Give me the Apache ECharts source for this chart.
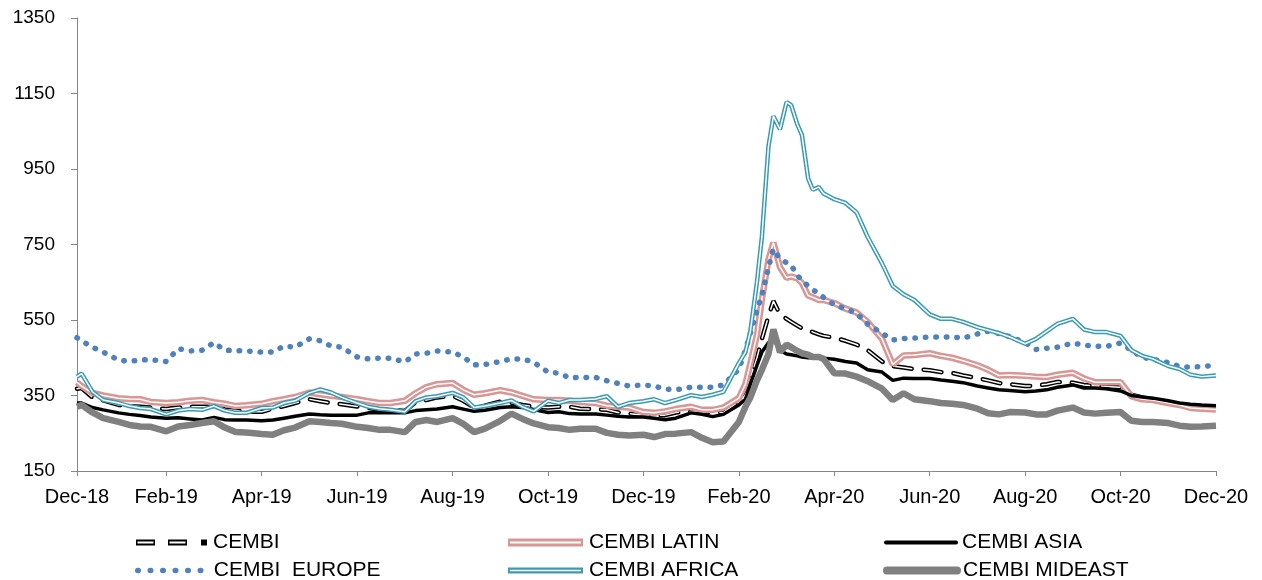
<!DOCTYPE html>
<html>
<head>
<meta charset="utf-8">
<script src="https://cdn.jsdelivr.net/npm/echarts@6/dist/echarts.min.js"></script>
<style>
  html, body { margin: 0; padding: 0; background: #fff; }
  #chart { width: 1262px; height: 580px; }
</style>
</head>
<body>
<div id="chart"></div>
<script>
// sample dates (denser around the Feb/Mar 2020 spike)
var dates = [
  '2018-12-05', '2018-12-08', '2018-12-15', '2018-12-22',
  '2019-01-01', '2019-01-08', '2019-01-15', '2019-01-22',
  '2019-02-01', '2019-02-08', '2019-02-15', '2019-02-22',
  '2019-03-01', '2019-03-08', '2019-03-15', '2019-03-22',
  '2019-04-01', '2019-04-08', '2019-04-15', '2019-04-22',
  '2019-05-01', '2019-05-08', '2019-05-15', '2019-05-22',
  '2019-06-01', '2019-06-08', '2019-06-15', '2019-06-22',
  '2019-07-01', '2019-07-08', '2019-07-15', '2019-07-22',
  '2019-08-01', '2019-08-08', '2019-08-15', '2019-08-22',
  '2019-09-01', '2019-09-08', '2019-09-15', '2019-09-22',
  '2019-10-01', '2019-10-08', '2019-10-15', '2019-10-22',
  '2019-11-01', '2019-11-08', '2019-11-15', '2019-11-22',
  '2019-12-01', '2019-12-08', '2019-12-15', '2019-12-22',
  '2020-01-01', '2020-01-08', '2020-01-15', '2020-01-22',
  '2020-02-01', '2020-02-05', '2020-02-08', '2020-02-12', '2020-02-15', '2020-02-19', '2020-02-22', '2020-02-26',
  '2020-03-01', '2020-03-04', '2020-03-08', '2020-03-11', '2020-03-15', '2020-03-18', '2020-03-22', '2020-03-25',
  '2020-04-01', '2020-04-08', '2020-04-15', '2020-04-22',
  '2020-05-01', '2020-05-08', '2020-05-15', '2020-05-22',
  '2020-06-01', '2020-06-08', '2020-06-15', '2020-06-22',
  '2020-07-01', '2020-07-08', '2020-07-15', '2020-07-22',
  '2020-08-01', '2020-08-08', '2020-08-15', '2020-08-22',
  '2020-09-01', '2020-09-08', '2020-09-15', '2020-09-22',
  '2020-10-01', '2020-10-08', '2020-10-15', '2020-10-22',
  '2020-11-01', '2020-11-08', '2020-11-15', '2020-11-22',
  '2020-12-01'
];

var cembi = [
  368, 370, 345, 337,
  325, 322, 320, 318,
  314, 318, 320, 320,
  320, 313, 310, 307,
  307, 315, 322, 330,
  340, 335, 330, 327,
  321, 317, 312, 312,
  309, 332, 338, 345,
  349, 336, 318, 323,
  334, 331, 325, 320,
  318, 320, 320, 315,
  314, 312, 305, 302,
  298, 298, 298, 305,
  308, 306, 305, 305,
  335, 370, 395, 450, 500, 560, 600, 565,
  553, 545, 535, 528, 522, 518, 512, 508,
  503, 495, 485, 470,
  440, 428, 424, 420,
  417, 412, 410, 403,
  396, 390, 383, 380,
  375, 376, 380, 386,
  384, 378, 375, 374,
  372, 352, 345, 338,
  330, 325, 318, 315,
  313
];

var cembiLatin = [
  385, 375, 357, 350,
  343, 341, 340, 333,
  330, 332, 336, 338,
  332, 328, 322, 324,
  328, 335, 340, 346,
  358, 353, 349, 346,
  340, 335, 330, 330,
  336, 356, 372, 380,
  383, 365, 352, 356,
  364, 358, 349, 340,
  338, 338, 336, 333,
  330, 323, 320, 318,
  306, 304, 308, 314,
  320, 312, 312, 318,
  343, 380, 435, 510, 605, 710, 755, 690,
  662, 665, 660, 648, 615, 610, 603, 603,
  595, 580, 570, 545,
  500, 432, 456, 457,
  462, 455, 450, 442,
  430, 418, 403, 404,
  402, 400, 399, 405,
  410, 395, 385, 385,
  385, 348, 340, 338,
  330, 325, 317, 315,
  313
];

var cembiAsia = [
  330, 330, 318, 312,
  304, 300, 297, 293,
  290, 291, 288, 285,
  292, 286, 285, 285,
  283, 285, 290, 295,
  301, 299, 298, 298,
  298, 304, 304, 304,
  304, 310, 312, 314,
  320, 314, 308, 311,
  318, 320, 318, 313,
  305, 307, 302, 301,
  301, 298, 295, 293,
  293, 290, 286, 290,
  304, 300, 294, 300,
  325, 340, 380, 430, 465, 490, 500, 470,
  460, 458, 455, 452, 450, 450, 450, 449,
  446, 440, 436, 418,
  412, 390, 396, 395,
  395, 391, 388, 384,
  375, 370, 365, 363,
  360, 362, 365, 372,
  378, 370, 370, 368,
  362, 350, 346, 343,
  336, 330, 327, 325,
  323
];

var cembiEurope = [
  503, 495, 478, 465,
  444, 440, 444, 445,
  440, 474, 468, 470,
  490, 470, 469, 468,
  465, 465, 481, 478,
  500, 495, 481, 478,
  452, 447, 449, 449,
  439, 460, 462, 468,
  465, 452, 431, 432,
  440, 447, 447, 438,
  412, 409, 397, 398,
  398, 389, 382, 375,
  378, 375, 367, 365,
  372, 372, 372, 378,
  420, 470, 515, 575, 615, 690, 738, 712,
  702, 695, 668, 655, 640, 630, 620, 610,
  590, 580, 568, 539,
  515, 497, 501, 502,
  505, 505, 505, 502,
  513, 520, 514, 506,
  490, 472, 475, 478,
  489, 483, 481, 480,
  489, 470, 451, 446,
  437, 427, 425, 427,
  430
];

var cembiAfrica = [
  400, 408, 360, 338,
  330, 322, 317, 314,
  300, 310, 314, 312,
  322, 310, 304, 304,
  317, 318, 330, 336,
  357, 366, 358, 345,
  330, 320, 315, 312,
  307, 335, 345, 348,
  357, 345, 318, 322,
  330, 337, 320, 308,
  336, 330, 338, 338,
  341, 348, 320, 330,
  335, 340, 330, 338,
  351, 346, 352, 360,
  436, 465, 520, 650, 770, 1010, 1090, 1055,
  1127, 1119, 1068, 1040, 925, 895, 902, 885,
  870, 860, 835, 770,
  700, 640, 618, 603,
  565, 553, 553, 545,
  531, 523, 515, 505,
  487, 500, 520, 540,
  553, 525, 518, 518,
  508, 470, 455, 447,
  428, 420, 405, 400,
  403
];

var cembiMideast = [
  320, 325, 305, 290,
  280, 272, 268, 267,
  255, 268, 272, 277,
  282, 265, 253, 252,
  248, 246, 258, 265,
  282, 280, 277, 275,
  267, 264, 259, 259,
  253, 280, 285, 280,
  290, 275, 253, 262,
  283, 302, 288, 276,
  266, 264, 259, 262,
  262, 251, 246, 244,
  246, 240, 248, 249,
  253, 238, 226, 228,
  280, 320, 345, 390, 418, 460, 525, 465,
  485, 478, 468, 462, 458, 452, 452, 447,
  409, 408, 400, 388,
  368, 338, 356, 340,
  335, 330, 328, 325,
  315, 303, 300, 306,
  305, 300, 300, 310,
  318, 305, 302, 304,
  306, 283, 280, 280,
  277, 270, 267, 268,
  270
];

var tickLabels = ['Dec-18', 'Feb-19', 'Apr-19', 'Jun-19', 'Aug-19', 'Oct-19', 'Dec-19',
  'Feb-20', 'Apr-20', 'Jun-20', 'Aug-20', 'Oct-20', 'Dec-20'];

// x position in months counted from 1 Dec 2018
function monthPos(d) {
  var p = d.split('-');
  var y = +p[0], m = +p[1], day = +p[2];
  var dim = new Date(y, m, 0).getDate();
  return (y - 2018) * 12 + (m - 12) + (day - 1) / dim;
}

function pts(vals) {
  return dates.map(function (d, i) { return [monthPos(d), vals[i]]; });
}

var FONT = '"Liberation Sans", Arial, sans-serif';
var dash = [18, 12];

function line(name, vals, style) {
  return {
    name: name,
    type: 'line',
    data: pts(vals),
    symbol: 'none',
    silent: true,
    lineStyle: style
  };
}

// white core lines drawn right after their outer line give the "double line" look
var series = [
  line('CEMBI', cembi, { color: '#000', width: 4.5, type: dash, cap: 'round' }),
  line('CEMBI_w', cembi, { color: '#fff', width: 1.5, type: dash, cap: 'round' }),
  line('CEMBI LATIN', cembiLatin, { color: '#D99694', width: 6.5 }),
  line('CEMBI LATIN_w', cembiLatin, { color: '#fff', width: 1.5 }),
  line('CEMBI ASIA', cembiAsia, { color: '#000', width: 3.5 }),
  line('CEMBI  EUROPE', cembiEurope, { color: '#4F81BD', width: 5.5, type: [0.5, 10], cap: 'round' }),
  line('CEMBI AFRICA', cembiAfrica, { color: '#3A9BB5', width: 4.5 }),
  line('CEMBI AFRICA_w', cembiAfrica, { color: '#fff', width: 1.5 }),
  line('CEMBI MIDEAST', cembiMideast, { color: '#808080', width: 6.5 })
];

var textStyle = { fontFamily: FONT, fontSize: 21, color: '#000', padding: [0, 0, 0, 1] };

// legend entry drawn with the series' own line style
function lineLegend(name, left, top, lineStyle) {
  return {
    data: [name], left: left, top: top,
    itemWidth: 70, itemHeight: 14, padding: 0, selectedMode: false,
    itemStyle: { color: 'rgba(0,0,0,0)', borderWidth: 0, opacity: 0 },
    lineStyle: lineStyle,
    textStyle: textStyle
  };
}

// legend entry with an outlined (double line) icon
function pathLegend(name, left, top, w, h, path, color) {
  return {
    data: [{ name: name, icon: 'path://' + path }],
    left: left, top: top,
    itemWidth: w, itemHeight: h, padding: 0, selectedMode: false,
    symbolKeepAspect: false,
    itemStyle: { color: color, borderWidth: 0 },
    textStyle: textStyle
  };
}

var row1 = 532, row2 = 560;
var legends = [
  pathLegend('CEMBI', 136, row1, 71, 6,
    'M0,0H19V6H0Z M1.5,2V4H17.5V2Z M32,0H51V6H32Z M33.5,2V4H49.5V2Z M65,0H71V6H65Z', '#000'),
  pathLegend('CEMBI LATIN', 508, row1, 75, 8,
    'M0,0H75V8H0Z M2,3V5H73V3Z', '#D99694'),
  lineLegend('CEMBI ASIA', 884, row1, { width: 4, cap: 'round' }),
  lineLegend('CEMBI  EUROPE', 135, row2, { width: 5.5, type: [0.5, 12], cap: 'round' }),
  pathLegend('CEMBI AFRICA', 508, row2, 75, 6,
    'M0,0H75V6H0Z M2,2.2V3.8H73V2.2Z', '#3A9BB5'),
  lineLegend('CEMBI MIDEAST', 883, row2, { width: 8, cap: 'round' })
];

var xMin = monthPos(dates[0]);
var chart = echarts.init(document.getElementById('chart'));
chart.setOption({
  animation: false,
  backgroundColor: '#fff',
  grid: { left: 77, right: 46, top: 18, bottom: 109 },
  xAxis: {
    type: 'value',
    min: xMin,
    max: 24,
    minInterval: 2,
    maxInterval: 2,
    splitNumber: 12,
    splitLine: { show: false },
    axisLine: { lineStyle: { color: '#868686', width: 1 } },
    axisTick: { length: 5, lineStyle: { color: '#868686' } },
    axisLabel: {
      margin: 16,
      fontFamily: FONT,
      fontSize: 20,
      color: '#000',
      showMinLabel: true,
      showMaxLabel: true,
      formatter: function (v) {
        if (v < 1) return tickLabels[0];
        return tickLabels[Math.round(v / 2)];
      }
    }
  },
  yAxis: {
    type: 'value',
    min: 150,
    max: 1350,
    interval: 200,
    splitLine: { show: false },
    axisLine: { show: true, lineStyle: { color: '#868686', width: 1 } },
    axisTick: { show: true, length: 6, lineStyle: { color: '#868686' } },
    axisLabel: {
      margin: 22,
      fontFamily: FONT,
      fontSize: 19,
      color: '#000',
      formatter: function (v) { return String(v); }
    }
  },
  legend: legends,
  series: series
});
</script>
</body>
</html>
